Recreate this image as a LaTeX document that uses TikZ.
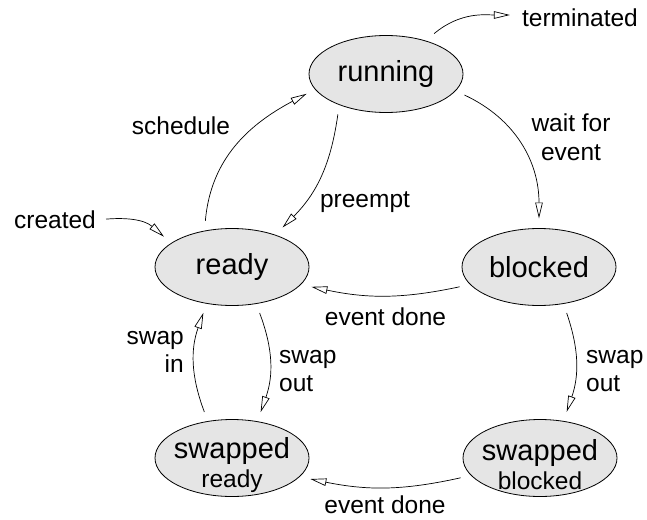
\documentclass[tikz,border=0pt]{standalone}
\usepackage{fontspec}
\setmainfont{Liberation Sans}
\usetikzlibrary{shapes.geometric,arrows.meta}
\begin{document}
\begin{tikzpicture}[x=1pt,y=1pt,
  state/.style={ellipse, draw, line width=0.8pt, fill=gray!20, minimum width=154pt, minimum height=77pt, inner sep=0pt, outer sep=10pt, font=\fontsize{29}{30}\selectfont},
  statetext/.style={align=center, inner sep=0pt, font=\fontsize{29}{29}\selectfont},
  lbl/.style={inner sep=0pt, font=\fontsize{24.5}{28.5}\selectfont},
  trans/.style={draw, line width=0.7pt, -{Triangle[open, length=16pt, width=7.5pt]}},
]
\useasboundingbox (0,0) rectangle (647,-519);

\node[state] (running) at (386,-74) {running};
\node[state] (ready) at (232,-267) {ready};
\node[state] (blocked) at (539,-267) {blocked};
\node[state] (sready) at (232,-458) {};
\node[state] (sblocked) at (540,-458) {};
\node[statetext] (sreadytext) at ([yshift=-7pt]sready.center) {swapped\\{\fontsize{24.5}{29}\selectfont ready}};
\node[statetext] (sblockedtext) at ([yshift=-7pt]sblocked.center) {swapped\\{\fontsize{24.5}{29}\selectfont blocked}};

\node[lbl] (created) at (55,-220) {created};
\node[lbl] (term) at (580,-18) {terminated};
\node[lbl] (lsched) at (181,-126) {schedule};
\node[lbl] (lpre) at (365,-202.5) {preempt};
\node[lbl, align=center] (lwait) at (571,-137) {wait for\\event};
\node[lbl] (ldone1) at (385.5,-317) {event done};
\node[lbl] (ldone2) at (385,-505) {event done};
\node[lbl, align=left, anchor=west] (lout1) at (279,-371) {swap\\out};
\node[lbl, align=right, anchor=east] (lin) at (184,-352) {swap\\in};
\node[lbl, align=left, anchor=west] (lout2) at (586,-371) {swap\\out};

\draw[trans] (ready.120) to[out=85,in=208] (running.194);
\draw[trans] (running.220) to[out=262,in=45] (ready.38);
\draw[trans] (running.-15) to[out=-25,in=90] (blocked.90);
\draw[trans] (blocked.194) to[bend left=12] (ready.-14);
\draw[trans] (ready.-59) to[bend left=20] (sready.58);
\draw[trans] (sready.121) to[bend left=20] (ready.238);
\draw[trans] (blocked.-59) to[bend left=19] (sblocked.60);
\draw[trans] (sblocked.194) to[bend left=12] (sready.-15);
\draw[trans, shorten <=10pt] (created.east) to[out=5,in=139] (ready.156);
\draw[trans, shorten >=12pt] (running.40) to[out=40,in=180] ([yshift=3pt]term.west);
\end{tikzpicture}
\end{document}
